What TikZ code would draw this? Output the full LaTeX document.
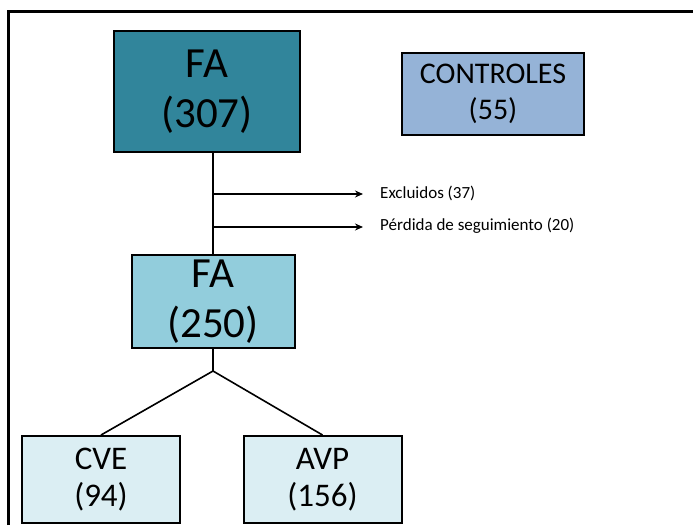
\documentclass[tikz,border=0pt]{standalone}
\usepackage{fontspec}
\setmainfont{Carlito}
\usepackage{xcolor}
\usetikzlibrary{arrows.meta,positioning}

\definecolor{tealdark}{RGB}{49,133,155}
\definecolor{bluectrl}{RGB}{149,179,215}
\definecolor{tealmid}{RGB}{146,205,220}
\definecolor{teallight}{RGB}{219,238,243}

\begin{document}
\begin{tikzpicture}[x=1pt,y=-1pt]
      \tikzset{box/.style={draw=black, line width=2pt, align=center, inner sep=0pt},
        bigbox/.style={box, font=\fontsize{43}{50}\selectfont},
        midbox/.style={box, font=\fontsize{30}{36}\selectfont},
        leafbox/.style={box, fill=teallight, minimum width=158pt, minimum height=87pt,
          font=\fontsize{33}{37}\selectfont},
        link/.style={line width=1.6pt},
        exit/.style={link, -{Stealth[length=8pt,width=7pt]}},
        exit_text/.style={anchor=west, inner sep=0pt, font=\fontsize{17}{20}\selectfont}}

      \useasboundingbox (0,0) rectangle (693,525);
      % frame, open on the right and at the bottom
      \draw[line width=3pt] (8,525) -- (8,11) -- (693,11);

      \node (fa307) [bigbox, fill=tealdark, minimum width=186pt, minimum height=121pt]
        at (207,91.5) {FA\\(307)};
      \node (ctrl) [midbox, fill=bluectrl, minimum width=182pt, minimum height=82pt]
        at (493,94) {CONTROLES\\(55)};
      \node (fa250) [bigbox, fill=tealmid, minimum width=163pt, minimum height=93pt]
        at (213,301.5) {FA\\(250)};

      \node (cve) [leafbox] at (101,479.5) {CVE\\(94)};
      \node (avp) [leafbox] at (322.5,479.5) {AVP\\(156)};

      % losses
      \draw[link] (fa250.north |- fa307.south) -- (fa250.north);
      \coordinate (cut1) at (213,194);
      \coordinate (cut2) at (213,227);
      \node (excl) [exit_text] at (380,193) {Excluidos (37)};
      \node (lost) [exit_text] at (380,226) {Pérdida de seguimiento (20)};
      \draw[exit, shorten >=17pt] (cut1) -- (excl.west |- cut1);
      \draw[exit, shorten >=17pt] (cut2) -- (lost.west |- cut2);

      % split into groups
      \coordinate (split) at (213,371);
      \draw[link] (fa250.south) -- (split);
      \draw[link] (split) -- (cve.north);
      \draw[link] (split) -- (avp.north);
\end{tikzpicture}
\end{document}
